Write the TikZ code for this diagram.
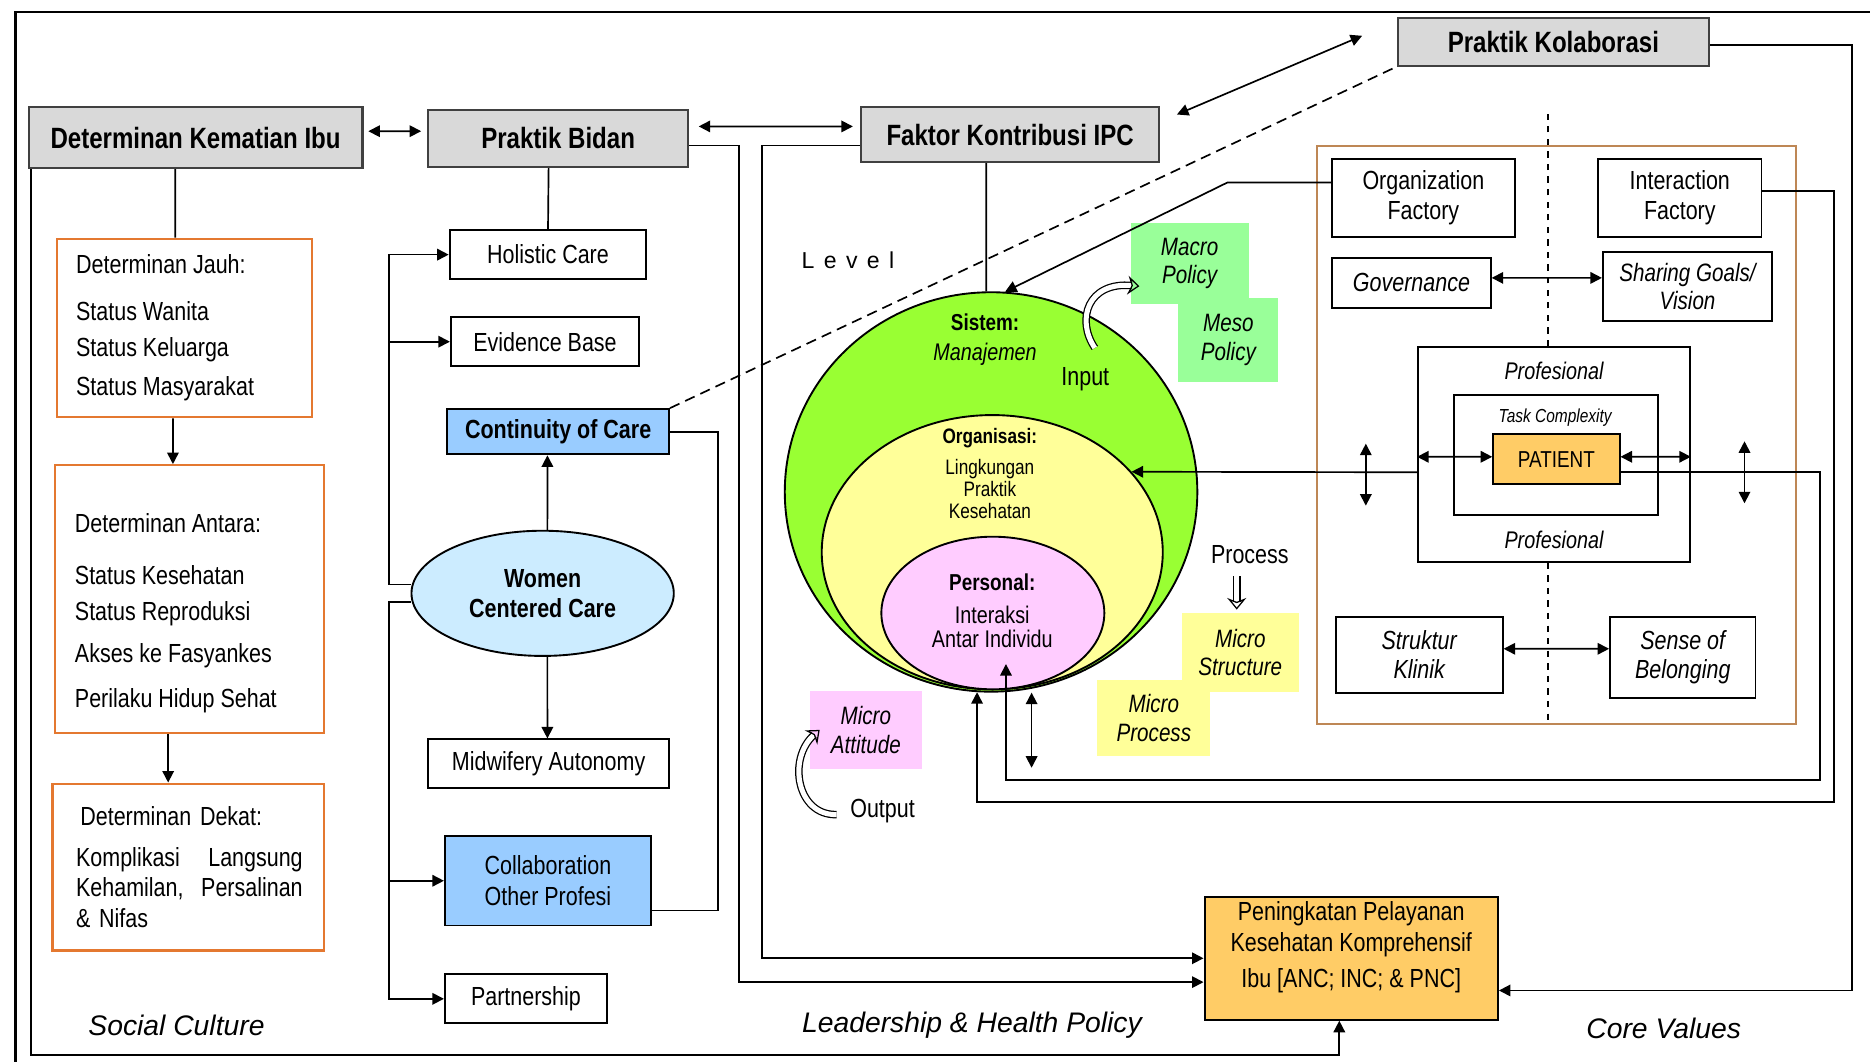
\documentclass[tikz,border=0pt]{standalone}
\usepackage{fontspec}
\setmainfont{Liberation Sans}[FakeStretch=0.82]
\newfontfamily\widefont{Liberation Sans}
\usetikzlibrary{arrows.meta, shapes.geometric}

\definecolor{headgray}{RGB}{217,217,217}
\definecolor{detorange}{RGB}{228,120,48}
\definecolor{corebrown}{RGB}{190,135,85}
\definecolor{careblue}{RGB}{153,204,255}
\definecolor{womenblue}{RGB}{204,236,255}
\definecolor{sistemgreen}{RGB}{153,255,51}
\definecolor{orgyellow}{RGB}{255,255,153}
\definecolor{personpink}{RGB}{255,204,255}
\definecolor{policygreen}{RGB}{153,255,153}
\definecolor{patientorange}{RGB}{255,204,102}

\newcommand{\bodyfont}{\fontsize{12.5}{14.5}\selectfont}
\newcommand{\handfont}{\widefont\itshape\fontsize{13.5}{15}\selectfont}

\tikzset{
  headbox/.style={draw=black!75, line width=1pt, fill=headgray, inner sep=0pt,
    font=\fontsize{14}{16}\selectfont\bfseries},
  itembox/.style={draw, line width=0.9pt, inner sep=0pt, align=center},
  detbox/.style={draw=detorange, line width=1pt, inner sep=0pt},
  detlist/.style={anchor=west, align=left, inner sep=0pt},
  notebox/.style={fill=#1, inner sep=0pt, align=center,
    font=\fontsize{12}{13.5}\selectfont\itshape},
  ring/.style={ellipse, draw, line width=0.9pt, inner sep=0pt},
  lbl/.style={inner sep=1pt, align=center},
  hollowarrow/.style={double, double distance=2.4pt, line width=0.6pt,
    -{Stealth[open, length=5.5pt, width=9pt]}},
}

\begin{document}
\begin{tikzpicture}[x=0.02cm, y=-0.02cm, line width=0.8pt,
  >={Triangle[length=5.5pt,width=5.5pt]}, font=\bodyfont]
  \useasboundingbox (0,0) rectangle (1568,890);

  % page frame
  \draw[line width=1.3pt] (13,900) -- (13,10) -- (1580,10);

  % main heads
  \node[headbox, minimum width=5.6cm, minimum height=1.02cm] (detkem) at (164,115.5) {Determinan Kematian Ibu};
  \node[headbox, minimum width=4.36cm, minimum height=0.96cm] (bidan) at (468,116) {Praktik Bidan};
  \node[headbox, minimum width=5.0cm, minimum height=0.92cm] (faktor) at (847,113) {Faktor Kontribusi IPC};
  \node[headbox, minimum width=5.22cm, minimum height=0.8cm] (kolab) at (1302.5,35) {Praktik Kolaborasi};

  \draw[<->] ([xshift=0.08cm,yshift=0.11cm]detkem.east) -- ([xshift=-0.1cm,yshift=0.12cm]bidan.west);
  \draw[<->] ([xshift=0.16cm,yshift=0.2cm]bidan.east) -- ([xshift=-0.12cm,yshift=0.14cm]faktor.west);
  \draw[<->] ([xshift=0.28cm,yshift=0.34cm]faktor.east) -- ([xshift=-0.58cm,yshift=0.1cm]kolab.west);

  % determinan column
  \node[detbox, minimum width=4.28cm, minimum height=3.0cm] (jauh) at (155,275) {};
  \node[detlist] (jauhtxt) at ([xshift=0.32cm]jauh.west)
    {Determinan Jauh:\\[8pt] Status Wanita\\[2.5pt] Status Keluarga\\[4.3pt] Status Masyarakat};
  \node[detbox, minimum width=4.52cm, minimum height=4.5cm] (antara) at (159,502.5) {};
  \node[detlist] (antaratxt) at ([xshift=0.34cm,yshift=-0.24cm]antara.west)
    {Determinan Antara:\\[10pt] Status Kesehatan\\[3pt] Status Reproduksi\\[5.5pt] Akses ke Fasyankes\\[7pt] Perilaku Hidup Sehat};
  \node[detbox, minimum width=4.56cm, minimum height=2.8cm] (dekat) at (158,727) {};
  \node[detlist, text width=3.8cm] (dekattxt) at ([xshift=0.4cm]dekat.west)
    {\hspace{2pt}Determinan Dekat:\\[5pt] Komplikasi\hfill Langsung\\ Kehamilan,\hfill Persalinan\\ \& Nifas};

  \draw ([xshift=-0.34cm]detkem.south) -- ([xshift=-0.16cm]jauh.north);
  \draw[->] ([xshift=-0.2cm]jauh.south) -- ([xshift=-0.28cm]antara.north);
  \draw[->] ([xshift=-0.36cm]antara.south) -- ([xshift=-0.34cm]dekat.north);
  \node[lbl, font=\handfont] (social) at (148,860) {Social Culture};

  % praktik bidan column
  \node[itembox, minimum width=3.3cm, minimum height=0.82cm] (holistic) at (459.5,213.5) {Holistic Care};
  \node[itembox, minimum width=3.16cm, minimum height=0.82cm] (evidence) at (457,286.5) {Evidence Base};
  \node[itembox, fill=careblue, minimum width=3.72cm, minimum height=0.76cm, font=\fontsize{12.5}{14}\selectfont\bfseries] (continuity) at (468,362) {Continuity of Care};
  \node[ring, fill=womenblue, minimum width=4.4cm, minimum height=2.1cm, align=center, font=\fontsize{12.5}{14.5}\selectfont\bfseries] (women) at (455,497.5) {Women\\Centered Care};
  \node[itembox, minimum width=4.04cm, minimum height=0.82cm] (autonomy) at (460,640.5) {Midwifery Autonomy};
  \node[itembox, fill=careblue, minimum width=3.46cm, minimum height=1.5cm] (collab) at (459.5,738.5) {Collaboration\\Other Profesi};
  \node[itembox, minimum width=2.72cm, minimum height=0.82cm] (partner) at (441,837.5) {Partnership};

  \draw ([xshift=-0.16cm]bidan.south) -- (holistic.north);
  \draw[->] ([xshift=0.08cm]women.north) -- ([xshift=-0.18cm]continuity.south);
  \draw[->] ([xshift=0.08cm]women.south) -- ([xshift=-0.02cm]autonomy.north);
  \coordinate (bus) at ([xshift=-0.36cm]women.west);
  \draw[->] ([yshift=0.15cm]women.west) -- ++(-18,0) |- (holistic.west);
  \draw[->] (bus |- evidence.west) -- (evidence.west);
  \draw[->] ([yshift=-0.15cm]women.west) -- ++(-18,0) |- (partner.west);
  \draw[->] (bus |- collab.west) -- (collab.west);
  \draw (continuity.east) -- ++(40,0) |- ([yshift=-0.5cm]collab.east);

  % outcome box
  \node[draw, line width=1pt, fill=patientorange, minimum width=4.92cm, minimum height=2.06cm] (pening) at (1133,803.5) {};
  \node[lbl] (peningtxt) at ([yshift=0.18cm]pening.center)
    {Peningkatan Pelayanan\\Kesehatan Komprehensif\\[3pt]Ibu [ANC; INC; \& PNC]};

  \draw[->] ([yshift=-0.12cm]bidan.east) -- ++(42,0) |- ([yshift=-0.4cm]pening.west);
  \draw[->] ([yshift=-0.18cm]faktor.west) -- ++(-82,0) |- (pening.west);
  \draw[->] ([yshift=-0.06cm]kolab.east) -- ++(119,0) |- ([yshift=-0.54cm]pening.east);
  \draw[->] ([xshift=0.06cm]detkem.south west) -- ++(0,743) -| ([xshift=-0.2cm]pening.south);
  \draw[dashed, dash pattern=on 5pt off 3pt] (continuity.north east) -- (kolab.south west);

  % level circles
  \node[ring, fill=sistemgreen, minimum width=6.92cm, minimum height=6.7cm] (sistem) at (831,412.5) {};
  \node[ring, fill=orgyellow, minimum width=5.72cm, minimum height=4.6cm] (orgn) at (832,463) {};
  \node[ring, fill=personpink, minimum width=3.74cm, minimum height=2.56cm] (persona) at (832.5,514) {};

  \node[lbl, font=\fontsize{11}{12}\selectfont\bfseries] (sistemlbl) at (826,270) {Sistem:};
  \node[lbl, font=\fontsize{11.5}{12}\selectfont\itshape] (manajemen) at (826,297) {Manajemen};
  \node[lbl] (input) at (910,318) {Input};
  \node[lbl, font=\fontsize{10}{11}\selectfont\bfseries] (orglbl) at (830,367) {Organisasi:};
  \node[lbl, font=\fontsize{10}{10.3}\selectfont] (orgtxt) at (830,410) {Lingkungan\\Praktik\\Kesehatan};
  \node[lbl, font=\fontsize{11}{12}\selectfont\bfseries] (perslbl) at (832,488) {Personal:};
  \node[lbl, font=\fontsize{11.5}{11.5}\selectfont] (perstxt) at (832,526) {Interaksi\\Antar Individu};
  \node[lbl, font=\widefont\fontsize{11}{12}\selectfont] (level) at (711,218) {L\hspace{4.5pt}e\hspace{4.5pt}v\hspace{4.5pt}e\hspace{4.5pt}l};

  \draw ([xshift=-0.4cm]faktor.south) -- ([xshift=-0.08cm]sistem.north);

  % policy and micro notes
  \node[notebox=policygreen, minimum width=1.98cm, minimum height=1.36cm] (macro) at (997.5,221) {Macro\\Policy};
  \node[notebox=policygreen, minimum width=1.68cm, minimum height=1.4cm] (meso) at (1030,285) {Meso\\Policy};
  \node[notebox=orgyellow, minimum width=1.96cm, minimum height=1.32cm] (microstr) at (1040,547) {Micro\\Structure};
  \node[notebox=orgyellow, minimum width=1.9cm, minimum height=1.28cm] (microproc) at (967.5,602) {Micro\\Process};
  \node[notebox=personpink, minimum width=1.88cm, minimum height=1.32cm] (microatt) at (726,612) {Micro\\Attitude};
  \node[lbl] (proc) at (1048,465) {Process};
  \node[lbl] (outp) at (740,680) {Output};

  \draw[hollowarrow] ([xshift=0.16cm,yshift=0.28cm]input.north) .. controls (902,268) and (912,236) .. ([xshift=0.16cm,yshift=-0.38cm]macro.west);
  \draw[hollowarrow] ([xshift=-0.22cm,yshift=-0.16cm]proc.south) -- ++(0,28);
  \draw[hollowarrow] ([xshift=-0.18cm,yshift=-0.06cm]outp.west) .. controls (668,684) and (660,636) .. ([xshift=0.18cm]microatt.west);

  % core values frame
  \node[draw=corebrown, line width=1pt, minimum width=8.04cm, minimum height=9.7cm] (core) at (1305,364.5) {};
  \node[itembox, minimum width=3.06cm, minimum height=1.32cm] (orgfac) at (1193.5,166) {Organization\\Factory};
  \node[itembox, minimum width=2.74cm, minimum height=1.32cm] (interfac) at (1408.5,166) {Interaction\\Factory};
  \node[itembox, minimum width=2.66cm, minimum height=0.84cm, font=\bodyfont\itshape] (govern) at (1183.5,237) {Governance};
  \node[itembox, minimum width=2.84cm, minimum height=1.16cm, font=\fontsize{12}{13.5}\selectfont\itshape] (sharing) at (1415,240) {Sharing Goals/\\Vision};
  \node[itembox, minimum width=4.56cm, minimum height=3.6cm] (profout) at (1303,381) {};
  \node[lbl, font=\fontsize{11.5}{12}\selectfont\itshape] (proftop) at (1303,311) {Profesional};
  \node[lbl, font=\fontsize{11.5}{12}\selectfont\itshape] (profbot) at (1303,453) {Profesional};
  \node[itembox, minimum width=3.42cm, minimum height=2.02cm] (task) at (1304.5,381.5) {};
  \node[lbl, font=\fontsize{9}{10}\selectfont\itshape] (tasklbl) at (1304,350) {Task Complexity};
  \node[itembox, fill=patientorange, minimum width=2.12cm, minimum height=0.84cm, font=\fontsize{11}{12}\selectfont] (patient) at (1305,385) {PATIENT};
  \node[itembox, minimum width=2.8cm, minimum height=1.28cm, font=\fontsize{12.5}{14}\selectfont\itshape] (struktur) at (1190,549) {Struktur\\Klinik};
  \node[itembox, minimum width=2.44cm, minimum height=1.36cm, font=\fontsize{12.5}{14}\selectfont\itshape] (sense) at (1411,551) {Sense of\\Belonging};

  \draw[dashed] ([xshift=-0.1cm]profout.north) -- ++(0,-199);
  \draw[dashed] ([xshift=-0.1cm]profout.south) -- ++(0,132);
  \draw[<->] ([yshift=0.08cm]govern.east) -- ([yshift=0.14cm]sharing.west);
  \draw[<->] ([yshift=0.1cm]struktur.east) -- ([yshift=0.14cm]sense.west);
  \draw[<->] ([yshift=-0.04cm]profout.west) -- ([yshift=0.04cm]patient.west);
  \draw[<->] ([yshift=0.04cm]patient.east) -- ([yshift=-0.04cm]profout.east);
  \draw[<->] ([xshift=-0.86cm,yshift=0.18cm]profout.west) -- ++(0,52);
  \draw[<->] ([xshift=0.9cm,yshift=0.22cm]profout.east) -- ++(0,52);

  % links into the level circles
  \draw[->] ([yshift=0.26cm]orgfac.west) -- ++(-87,0) -- (sistem.86);
  \draw[->] ([yshift=-0.3cm]profout.west) -- (orgn.30);
  \draw[->] ([yshift=-0.22cm]patient.east) -- ++(167,0) |- ([xshift=0.22cm,yshift=-1.5cm]persona.south) -- ([xshift=0.22cm,yshift=0.44cm]persona.south);
  \draw[->] ([yshift=0.12cm]interfac.east) -- ++(60,0) |- ([yshift=-1.84cm]sistem.266) -- (sistem.266);
  \draw[<->] ([xshift=0.68cm]sistem.south) -- ++(0,63);

  % section labels
  \node[lbl, font=\handfont] (leader) at (815,860) {Leadership \& Health Policy};
  \node[lbl, font=\handfont] (corelbl) at (1395,862) {Core Values};
\end{tikzpicture}
\end{document}
